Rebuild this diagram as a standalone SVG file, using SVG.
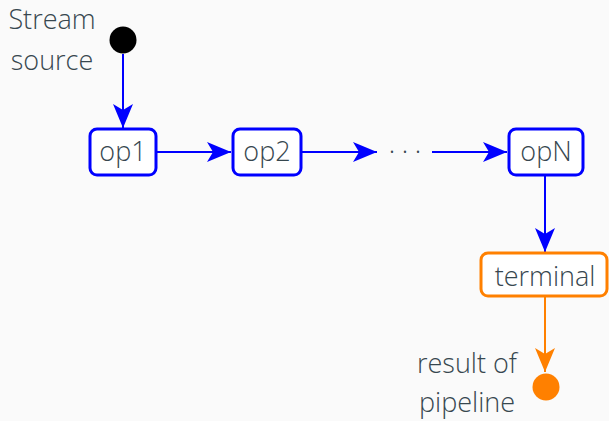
<svg xmlns="http://www.w3.org/2000/svg" width="609" height="421" viewBox="0 0 609 421">
<style>
text{font-family:"Open Sans","Noto Sans",sans-serif;font-weight:300;font-size:27px;fill:#37474f;text-anchor:middle}
.b{fill:#fff;stroke:#0000ff;stroke-width:3}
.o{fill:#fff;stroke:#ff8000;stroke-width:3}
.lb{stroke:#0000ff;stroke-width:2;fill:none}
.lo{stroke:#ff8000;stroke-width:2;fill:none}
</style>
<defs>
<marker id="ab" viewBox="0 0 24 20" refX="24" refY="10" markerWidth="24" markerHeight="20" markerUnits="userSpaceOnUse" orient="auto">
<path d="M0,0 L24,10 L0,20 L6,10 Z" fill="#0000ff"/>
</marker>
<marker id="ao" viewBox="0 0 24 20" refX="24" refY="10" markerWidth="24" markerHeight="20" markerUnits="userSpaceOnUse" orient="auto">
<path d="M0,0 L24,10 L0,20 L6,10 Z" fill="#ff8000"/>
</marker>
</defs>
<rect width="609" height="421" fill="#fafafa"/>
<g id="connectors">
<line class="lb" x1="123" y1="54" x2="123" y2="128" marker-end="url(#ab)"/>
<line class="lb" x1="157" y1="152" x2="231" y2="152" marker-end="url(#ab)"/>
<line class="lb" x1="302" y1="152" x2="377" y2="152" marker-end="url(#ab)"/>
<line class="lb" x1="432" y1="152" x2="507" y2="152" marker-end="url(#ab)"/>
<line class="lb" x1="545" y1="176" x2="545" y2="252" marker-end="url(#ab)"/>
<line class="lo" x1="545" y1="297" x2="545" y2="372" marker-end="url(#ao)"/>
</g>
<g id="source">
<circle cx="123" cy="40" r="13.5" fill="#000"/>
<text x="52" y="29">Stream</text>
<text x="52" y="70">source</text>
</g>
<g id="op1">
<rect class="b" x="90" y="129" width="66" height="46" rx="7"/>
<text x="123" y="161">op1</text>
</g>
<g id="op2">
<rect class="b" x="233" y="129" width="68" height="46" rx="7"/>
<text x="267" y="161">op2</text>
</g>
<g id="dots">
<text y="161"><tspan x="392">·</tspan><tspan x="405">·</tspan><tspan x="418">·</tspan></text>
</g>
<g id="opN">
<rect class="b" x="509" y="129" width="74" height="46" rx="7"/>
<text x="546" y="161">opN</text>
</g>
<g id="terminal">
<rect class="o" x="481" y="253" width="126" height="43" rx="7"/>
<text x="545" y="286">terminal</text>
</g>
<g id="result">
<circle cx="546" cy="387" r="13.5" fill="#ff8000"/>
<text x="467" y="373">result of</text>
<text x="467" y="412">pipeline</text>
</g>
</svg>
